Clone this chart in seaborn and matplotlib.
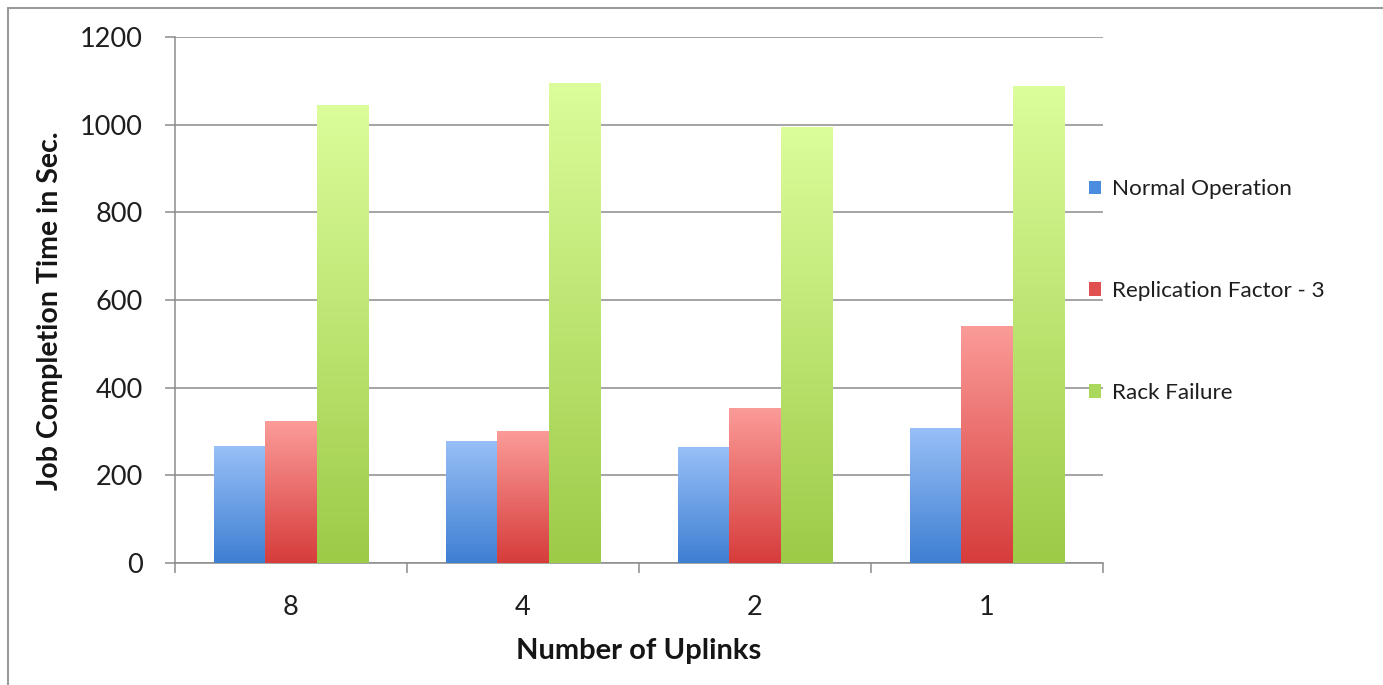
import numpy as np
import pandas as pd
import matplotlib
matplotlib.use("Agg")
import matplotlib.pyplot as plt
from matplotlib.colors import LinearSegmentedColormap
from matplotlib.patches import Patch
from matplotlib.lines import Line2D
import seaborn as sns

# Data
uplinks = ["8", "4", "2", "1"]
series = ["Normal Operation", "Replication Factor - 3", "Rack Failure"]
normal_operation = [266, 279, 264, 307]
replication_factor_3 = [323, 302, 354, 541]
rack_failure = [1044, 1096, 995, 1089]
y_ticks = [0, 200, 400, 600, 800, 1000, 1200]

df = pd.DataFrame({
    "Uplinks": uplinks * 3,
    "Series": [s for s in series for _ in uplinks],
    "Time": normal_operation + replication_factor_3 + rack_failure,
})

# Top / bottom colours of the vertical gradient for each series
grad = {
    "Normal Operation": ("#98bff7", "#3e7fd2"),
    "Replication Factor - 3": ("#fb9c99", "#d63c3b"),
    "Rack Failure": ("#dcfd9b", "#9ccb47"),
}
swatch = {
    "Normal Operation": "#4a8ce0",
    "Replication Factor - 3": "#e0504f",
    "Rack Failure": "#a9d85c",
}

sns.set_theme(style="white")
plt.rcParams["font.family"] = ["Lato", "DejaVu Sans"]

fig = plt.figure(figsize=(13.83, 6.85), dpi=100)
ax = fig.add_axes([175 / 1383, 1 - 563 / 685, (1103 - 175) / 1383, (563 - 37) / 685])

sns.barplot(
    data=df, x="Uplinks", y="Time", hue="Series", order=uplinks,
    hue_order=series, palette=[swatch[s] for s in series],
    width=0.667, saturation=1, gap=0, errorbar=None, ax=ax, legend=False,
    linewidth=0,
)

# Replace flat fills with vertical gradients
bars = [p for p in ax.patches if p.get_height() > 0]
hue_cycle = [s for s in series for _ in uplinks]
for patch, s in zip(bars, hue_cycle):
    x0 = patch.get_x()
    w = patch.get_width()
    h = patch.get_height()
    top, bottom = grad[s]
    cmap = LinearSegmentedColormap.from_list(s, [bottom, top])
    g = np.linspace(0, 1, 256).reshape(-1, 1)
    im = ax.imshow(g, cmap=cmap, origin="lower", aspect="auto",
                   extent=[x0, x0 + w, 0, h], zorder=3, interpolation="bicubic")
    im.set_clip_path(patch)
    patch.set_facecolor("none")

ax.set_xlim(-0.5, 3.5)
ax.set_ylim(0, 1200)
ax.set_yticks(y_ticks)
ax.set_yticklabels([str(v) for v in y_ticks])
ax.set_xticks(range(len(uplinks)))
ax.set_xticklabels(uplinks)
ax.set_xticks(np.arange(-0.5, 3.6, 1.0), minor=True)

ax.yaxis.grid(True, color="#8c8c8c", linewidth=1.1)
ax.set_axisbelow(True)
for side in ["top", "right"]:
    ax.spines[side].set_visible(False)
for side in ["left", "bottom"]:
    ax.spines[side].set_color("#8c8c8c")
    ax.spines[side].set_linewidth(1.1)

ax.tick_params(axis="y", which="major", direction="out", length=7, width=1.1,
               color="#8c8c8c", labelsize=19.5, labelcolor="#1e1e1e", pad=16, left=True)
ax.tick_params(axis="x", which="major", length=0, labelsize=19.5,
               labelcolor="#1e1e1e", pad=23)
ax.tick_params(axis="x", which="minor", direction="out", length=7, width=1.1,
               color="#8c8c8c", bottom=True)

ax.set_xlabel("Number of Uplinks", fontsize=21, fontweight="bold",
              color="#151515", labelpad=13)
ax.set_ylabel("Job Completion Time in Sec.", fontsize=20.5, fontweight="bold",
              color="#151515")
ax.yaxis.set_label_coords(-0.121, 0.48)

handles = [Patch(facecolor=swatch[s], edgecolor="none", label=s) for s in series]
ax.legend(handles=handles, loc="center left", bbox_to_anchor=(0.985, 0.517),
          frameon=False, fontsize=16.2, labelspacing=3.63, handlelength=0.55,
          handleheight=0.55, handletextpad=0.45, borderpad=0, borderaxespad=0,
          labelcolor="#1e1e1e")

# Thin frame around the figure (top and left edges)
fig.add_artist(Line2D([8 / 1383, 1], [1 - 8 / 685, 1 - 8 / 685],
                      transform=fig.transFigure, color="#9a9a9a", linewidth=1.5))
fig.add_artist(Line2D([8 / 1383, 8 / 1383], [0, 1 - 8 / 685],
                      transform=fig.transFigure, color="#9a9a9a", linewidth=1.5))

fig.savefig("out.png", dpi=100, facecolor="white")
